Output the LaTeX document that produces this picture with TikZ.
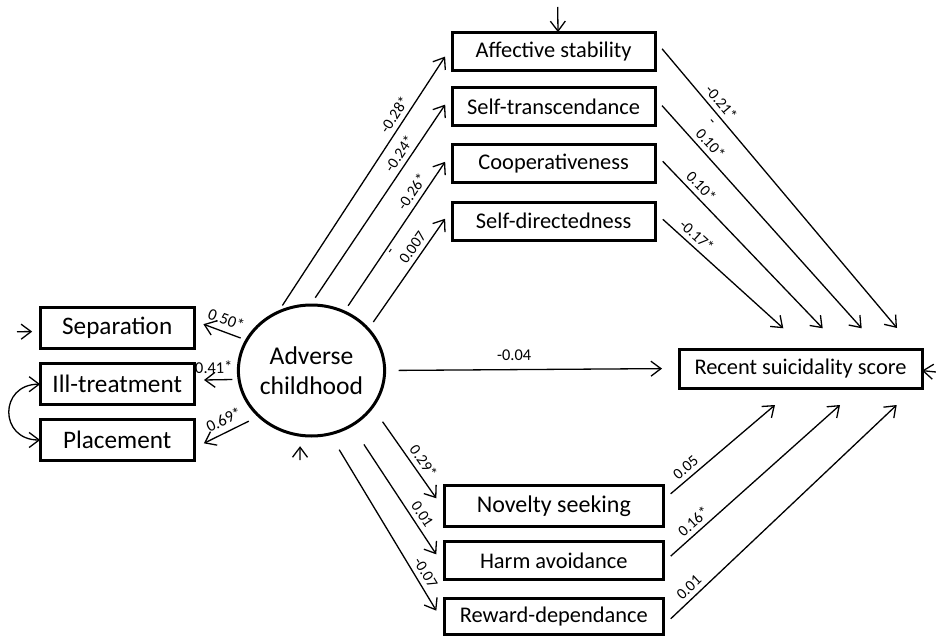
\documentclass[tikz,border=0pt]{standalone}
\usepackage{fontspec}
\setmainfont{Carlito}
\usetikzlibrary{arrows.meta,shapes.geometric}

\begin{document}
\begin{tikzpicture}[x=0.5pt, y=-0.5pt,
  >={Straight Barb[length=5pt,width=7.5pt]},
  box/.style={draw, rectangle, line width=1.5pt, inner sep=0pt, outer sep=0pt,
    font=\fontsize{11.2}{13}\selectfont},
  leftbox/.style={box, minimum width=77pt, minimum height=20.5pt,
    font=\fontsize{12.6}{15}\selectfont},
  persbox/.style={box, minimum width=101.5pt, minimum height=19pt},
  tempbox/.style={box, minimum width=109.5pt, minimum height=19pt},
  link/.style={->, line width=0.65pt},
  coef/.style={font=\fontsize{7.8}{8.5}\selectfont, inner sep=2.3pt, sloped, above},
  bigcoef/.style={coef, font=\fontsize{8.2}{9}\selectfont, inner sep=3pt}]

\useasboundingbox (0,0) rectangle (936,636);

%% indicators of adverse childhood
\path
(117.2,327.5) node[leftbox] (sep){Separation}
(117.2,384.2) node[leftbox] (illtreat){Ill-treatment}
(117.2,440) node[leftbox] (placement){Placement};

\path
(311.5,370.5) node[draw, ellipse, line width=1.5pt, minimum width=70.5pt,
  minimum height=65.5pt, inner sep=0pt, outer sep=0pt, align=center,
  font=\fontsize{12.8}{15}\selectfont] (adverse){Adverse\\childhood};

%% character dimensions
\path
(553.6,51.2) node[persbox] (affective){Affective stability}
(553.6,106.8) node[persbox] (transcend){Self-transcendance}
(553.6,164) node[persbox] (coop){Cooperativeness}
(553.6,221.2) node[persbox] (selfdir){Self-directedness};

%% temperament dimensions
\path
(553.8,505.8) node[tempbox, minimum height=20.8pt, font=\fontsize{12}{14}\selectfont] (novelty){Novelty seeking}
(553.8,560.8) node[tempbox] (harm){Harm avoidance}
(553.8,616.2) node[tempbox, minimum height=18pt] (reward){Reward-dependance};

%% outcome
\path
(800.5,368.5) node[box, minimum width=121.5pt, minimum height=19.5pt] (suicid){Recent suicidality score};

% free ends
\coordinate (errsep) at (17,331.7);
\coordinate (erradverse) at (300,460);
\coordinate (erraffective) at (557.7,7);
\coordinate (errsuicid) at (936,372);
\coordinate (tipaffective) at (897,328);
\coordinate (tiptranscend) at (861.7,328.3);
\coordinate (tipcoop) at (822.7,328.3);
\coordinate (tipselfdir) at (783.3,328.3);
\coordinate (tipnovelty) at (775,405);
\coordinate (tipharm) at (840,405);
\coordinate (tipreward) at (896.7,405);

% loadings
\draw[link, shorten <=3.2pt, shorten >=4.9pt] (adverse.155.5) -- (sep.5.9) node[bigcoef, pos=.47]{0.50*};
\draw[link, shorten <=3.3pt, shorten >=4.9pt] (adverse.187.2) -- (illtreat.3.6) node[bigcoef, pos=.56]{0.41*};
\draw[link, shorten <=5.7pt, shorten >=5.4pt] (adverse.221.4) -- (placement.-6) node[bigcoef, pos=.46]{0.69*};
\draw[link, <->] (illtreat.west) to[out=180, in=180, looseness=1.9] (placement.west);

% residuals
\draw[link, shorten >=4pt] (errsep) -- (sep.183.1);
\draw[link, shorten >=5.5pt] (erradverse) -- (adverse.260);
\draw[link] (erraffective) -- (affective.77.8);
\draw[link] (errsuicid) -- (suicid.-1.65);

% adverse childhood -> character
\draw[link, shorten <=4.1pt, shorten >=6.4pt] (adverse.120.1) -- (affective.177.3) node[coef, pos=.72]{-0.28*};
\draw[link, shorten <=4.4pt, shorten >=6.2pt] (adverse.91.3) -- (transcend.173.6) node[coef, pos=.69]{-0.24*};
\draw[link, shorten <=3.65pt, shorten >=6.2pt] (adverse.61.5) -- (coop.173.7) node[coef, pos=.71]{-0.26*};
\draw[link, shorten <=4.4pt, shorten >=6.1pt] (adverse.36.4) -- (selfdir.173.3) node[coef, pos=.63, align=left]{-\\0.007};

% character -> suicidality
\draw[link, shorten <=5.4pt] (affective.6.4) -- (tipaffective) node[coef, pos=.24]{-0.21*};
\draw[link, shorten <=5.2pt] (transcend.5.5) -- (tiptranscend) node[coef, pos=.23, align=left]{-\\0.10*};
\draw[link, shorten <=5.5pt] (coop.6.2) -- (tipcoop) node[coef, pos=.23]{0.10*};
\draw[link, shorten <=5.2pt] (selfdir.5.9) -- (tipselfdir) node[coef, pos=.27]{-0.17*};

% direct effect
\draw[link, shorten <=7pt, shorten >=8.5pt] (adverse.east) -- (suicid.west) node[bigcoef, pos=.44, inner sep=4pt]{-0.04};

% adverse childhood -> temperament
\draw[link, shorten <=9pt, shorten >=6.9pt] (adverse.-31.5) -- (novelty.182.5) node[coef, pos=.59]{0.29*};
\draw[link, shorten <=11.4pt, shorten >=7.3pt] (adverse.-54.7) -- (harm.183.9) node[coef, pos=.67]{0.01};
\draw[link, shorten <=9.2pt, shorten >=7.7pt] (adverse.-74.4) -- (reward.184.7) node[coef, pos=.76]{-0.07};

% temperament -> suicidality
\draw[link, shorten <=4.8pt] (novelty.3.6) -- (tipnovelty) node[coef, pos=.26]{0.05};
\draw[link, shorten <=5pt] (harm.-1.3) -- (tipharm) node[coef, pos=.21]{0.16*};
\draw[link, shorten <=5.1pt] (reward.-5.7) -- (tipreward) node[coef, pos=.14]{0.01};

\end{tikzpicture}
\end{document}
